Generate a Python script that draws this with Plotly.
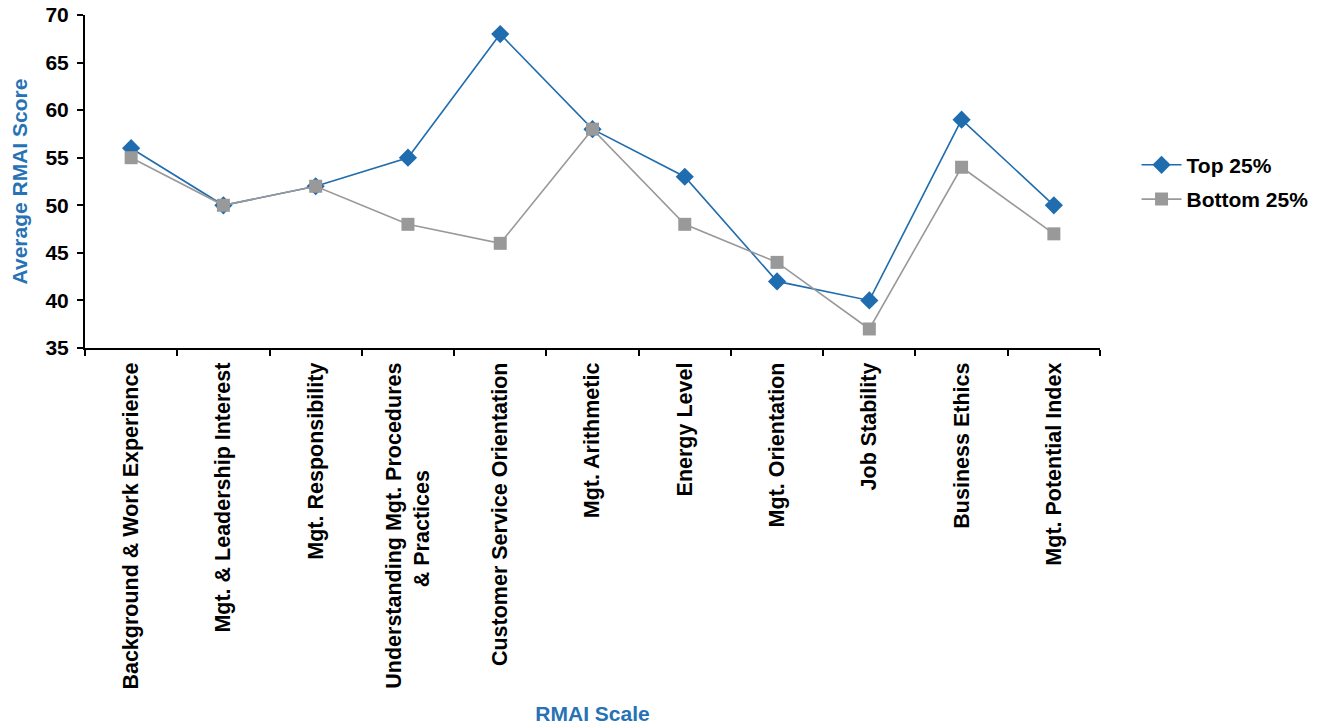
import plotly.graph_objects as go

categories = [
    "Background & Work Experience",
    "Mgt. & Leadership Interest",
    "Mgt. Responsibility",
    "Understanding Mgt. Procedures<br>& Practices" + "\u00a0" * 18,
    "Customer Service Orientation",
    "Mgt. Arithmetic",
    "Energy Level",
    "Mgt. Orientation",
    "Job Stability",
    "Business Ethics",
    "Mgt. Potential Index",
]
top25 = [56, 50, 52, 55, 68, 58, 53, 42, 40, 59, 50]
bottom25 = [55, 50, 52, 48, 46, 58, 48, 44, 37, 54, 47]

FONT = "Liberation Sans, Arial, sans-serif"
BLUE = "#1F6DAE"
TITLE_BLUE = "#2672B4"
GRAY = "#999999"
FS = 21

fig = go.Figure()
fig.add_trace(go.Scatter(
    x=categories, y=top25, name="<b>Top 25%</b>", mode="lines+markers",
    legendgroup="a",
    line=dict(color=BLUE, width=1.6),
    marker=dict(symbol="diamond", size=14, color=BLUE),
))
fig.add_trace(go.Scatter(
    x=categories, y=bottom25, name="<b>Bottom 25%</b>", mode="lines+markers",
    legendgroup="b",
    line=dict(color=GRAY, width=1.6),
    marker=dict(symbol="square", size=13, color=GRAY),
))

fig.update_layout(
    width=1327, height=728,
    margin=dict(l=85, r=227, t=15, b=380, autoexpand=False),
    paper_bgcolor="white", plot_bgcolor="white",
    font=dict(family=FONT, color="black"),
    legend=dict(x=1.036, y=0.498, xanchor="left", yanchor="middle",
                font=dict(size=FS, family=FONT, color="black"),
                itemwidth=40, tracegroupgap=4),
    xaxis=dict(
        type="category", range=[-0.5, 10.5], automargin=False,
        showline=True, linecolor="black", linewidth=2,
        ticks="outside", tickson="boundaries", ticklen=6, tickwidth=2, tickcolor="black",
        tickangle=-90, tickfont=dict(size=21.5, family=FONT, color="black"),
        ticklabelstandoff=4,
        showgrid=False, zeroline=False,
        title=dict(text="<b>RMAI Scale</b>", font=dict(size=FS, color=TITLE_BLUE, family=FONT), standoff=18),
        tickprefix="<b>", ticksuffix="</b>",
    ),
    yaxis=dict(
        range=[35, 70], dtick=5, automargin=False,
        showline=True, linecolor="black", linewidth=2,
        ticks="outside", ticklen=6, tickwidth=2, tickcolor="black",
        tickfont=dict(size=FS, family=FONT, color="black"),
        ticklabelstandoff=4,
        showgrid=False, zeroline=False,
        tickprefix="<b>", ticksuffix="</b>",
        title=dict(text="<b>Average RMAI Score</b>", font=dict(size=FS, color=TITLE_BLUE, family=FONT), standoff=12),
    ),
)

fig.write_html("out.html")
